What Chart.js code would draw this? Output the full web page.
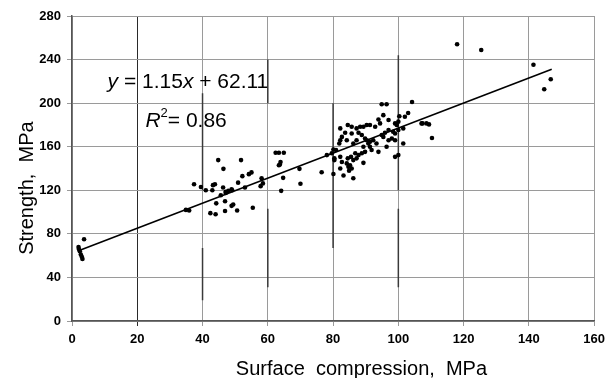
<!DOCTYPE html>
<html>
<head>
<meta charset="utf-8">
<script src="https://cdn.jsdelivr.net/npm/chart.js@4.4.1/dist/chart.umd.min.js"></script>
<style>
    body { margin: 0; background: #fff; }
    #wrap { width: 611px; height: 378px; position: relative; }
</style>
</head>
<body>
<div id="wrap"><canvas id="myChart"></canvas></div>
<script>
// Surface compression (MPa) vs strength (MPa)
const surfaceX = [
    2.0, 2.1, 2.4, 2.7, 3.0, 3.2, 3.7,
    34.9, 35.9,
    37.4, 39.5, 41, 43, 43.2, 43.8, 44.8, 51.8, 46.4, 46.3, 47.1, 47.9, 48.9, 49.1, 45.6, 47.1,
    50.9, 52.2, 54.2, 55, 53, 44.2, 46.9, 48.9, 49.4, 42.4, 44, 46.9, 50.6, 55.4, 58.1, 57.8, 58.5,
    62.4, 63.4, 64.9, 63.9, 63.7, 63.4, 64.7, 64.1, 69.7, 70,
    94.9, 96.4, 104.2, 102, 103, 100.3, 95.4, 93.9, 94.4, 97, 99, 100, 99.5, 107.1, 108.6, 110.3,
    101.5, 100, 98.4, 99, 97, 95.9, 94.9, 92.9, 91.3, 90.3, 89.3, 88.3, 87.2, 85.7, 84.5, 82.2,
    83.7, 85.7, 87.8, 88.8, 82.7, 82.2, 81.9, 84.2, 87.2, 86.2, 89.8, 90.3, 91.3, 90.8, 92.3, 93.3,
    95.4, 97, 98, 99, 101.5, 89.3, 91.3, 91.8, 93.9, 96.4, 99, 100, 80.1, 80.9, 79.6, 78.1,
    80.4, 80.4, 82.2, 82.7, 84.5, 85.5, 86.2, 87.2, 86.8, 87.8, 88.8, 89.8, 84.2, 85.2, 84.7, 85.7,
    82.2, 76.5, 80.1, 83.2, 86.2, 84.9, 89.3, 107.4, 109.4,
    118, 125.4, 141.4, 146.7, 144.7
];
const strengthY = [
    68, 66, 64, 61, 59, 57, 75,
    102, 101.5,
    125.6, 123, 120, 120, 124.7, 125.5, 147.7, 147.7, 139.7, 122.6, 118.6, 119.5, 120.8, 120, 115.5, 117.6,
    127, 133, 134.8, 136.4, 122.6, 108, 110, 105.7, 107, 99, 98, 101, 101.5, 104, 131, 123.8, 126.3,
    154.4, 154.4, 154.4, 146, 143.7, 143, 131.4, 119.5, 139.7, 126,
    199, 199, 201, 187.5, 191, 188, 189, 185, 181.4, 184.5, 181.4, 183, 180, 181.4, 181.4, 168,
    176.8, 175.3, 173.7, 172.2, 175.3, 172.8, 170.7, 178.3, 180, 180, 178.3, 178.3, 176.8, 178.3, 180, 176.8,
    172.8, 172.2, 172.8, 170.7, 169, 166, 163, 166, 166, 163, 167.6, 166, 164.5, 163, 166, 163,
    169, 166, 167.6, 166, 163, 160, 160, 157, 155.3, 160, 150.7, 152.3, 157.5, 157, 154, 152.3,
    149.3, 147.7, 150.7, 146, 149.3, 150.7, 147.7, 149.3, 154, 152.3, 154, 155.3, 144.7, 143, 141.5, 140,
    140, 136.5, 135, 133.6, 131, 138, 145.2, 181.4, 180.5,
    254, 248.8, 235.3, 222, 212.7
];

// линия тренда y = 1.15x + 62.11 (концы)
const trendX = [2, 147];
const trendY = [64.4, 231.2];

const xTicks = [0, 20, 40, 60, 80, 100, 120, 140, 160];
const yTicks = [0, 40, 80, 120, 160, 200, 240, 280];

// тёмные полосы от сканирования: [x, yFrom, yTo]
const scanMarks = [
    [40, 209, 120], [40, 67, 19],
    [60, 240, 200], [60, 103, 31],
    [80, 200, 67],
    [100, 244, 120], [100, 103, 31]
];

const FONT = '"Liberation Sans", Arial, sans-serif';

const textPlugin = {
    id: 'textPlugin',
    afterDraw(chart) {
        const c = chart.ctx;
        const xs = chart.scales.x;
        const ys = chart.scales.y;
        const area = chart.chartArea;
        c.save();
        c.fillStyle = '#000';
        c.textBaseline = 'alphabetic';
        c.textAlign = 'left';

        // equation
        let px = xs.getPixelForValue(10.9);
        let py = ys.getPixelForValue(214);
        const parts = [['y', true], [' = 1.15', false], ['x', true], [' + 62.11', false]];
        parts.forEach(([t, it]) => {
            c.font = (it ? 'italic ' : '') + '21px ' + FONT;
            c.fillText(t, px, py);
            px += c.measureText(t).width;
        });

        px = xs.getPixelForValue(22.5);
        py = ys.getPixelForValue(178);
        c.font = 'italic 21px ' + FONT;
        c.fillText('R', px, py);
        px += c.measureText('R').width;
        c.font = '13px ' + FONT;
        c.fillText('2', px, py - 10);
        px += c.measureText('2').width;
        c.font = '21px ' + FONT;
        c.fillText('= 0.86', px, py);

        // axis titles
        c.font = '20px ' + FONT;
        c.textAlign = 'center';
        c.fillText('Surface  compression,  MPa', xs.getPixelForValue(88.7), area.bottom + 54);

        c.translate(33, ys.getPixelForValue(122));
        c.rotate(-Math.PI / 2);
        c.fillText('Strength,  MPa', 0, 0);
        c.restore();
    }
};

const points = surfaceX.map((x, i) => ({x: x, y: strengthY[i]}));

const scanSets = scanMarks.map(m => ({
    type: 'line',
    data: [{x: m[0], y: m[1]}, {x: m[0], y: m[2]}],
    borderColor: '#3a3a3a',
    borderWidth: 1.5,
    pointRadius: 0,
    order: 3
}));

new Chart(document.getElementById('myChart'), {
    type: 'scatter',
    data: {
        datasets: [
            ...scanSets,
            {
                type: 'line',
                data: trendX.map((x, i) => ({x: x, y: trendY[i]})),
                borderColor: '#000',
                borderWidth: 1.6,
                pointRadius: 0,
                order: 2
            },
            {
                data: points,
                pointRadius: 2.3,
                pointBackgroundColor: '#000',
                pointBorderWidth: 0,
                order: 1
            }
        ]
    },
    options: {
        responsive: true,
        maintainAspectRatio: false,
        animation: false,
        layout: { padding: { top: 16, right: 14, left: 0, bottom: 0 } },
        plugins: {
            legend: { display: false },
            tooltip: { enabled: false }
        },
        scales: {
            x: {
                type: 'linear',
                min: 0,
                max: 160,
                afterFit: (scale) => { scale.height = 57; },
                afterBuildTicks: (scale) => { scale.ticks = xTicks.map(v => ({value: v})); },
                grid: {
                    color: (ctx) => ctx.tick && ctx.tick.value === 20 ? '#2a2a2a' : '#9a9a9a',
                    lineWidth: 1,
                    tickLength: 5
                },
                border: { color: '#555', width: 1.5 },
                ticks: {
                    padding: 6,
                    color: '#000',
                    font: { family: FONT, size: 13, weight: 'bold' }
                }
            },
            y: {
                min: 0,
                max: 280,
                afterFit: (scale) => { scale.width = 72; },
                afterBuildTicks: (scale) => { scale.ticks = yTicks.map(v => ({value: v})); },
                grid: {
                    color: '#9a9a9a',
                    lineWidth: 1,
                    tickLength: 5
                },
                border: { color: '#555', width: 1.5 },
                ticks: {
                    padding: 6,
                    color: '#000',
                    font: { family: FONT, size: 13, weight: 'bold' }
                }
            }
        }
    },
    plugins: [textPlugin]
});
</script>
</body>
</html>
